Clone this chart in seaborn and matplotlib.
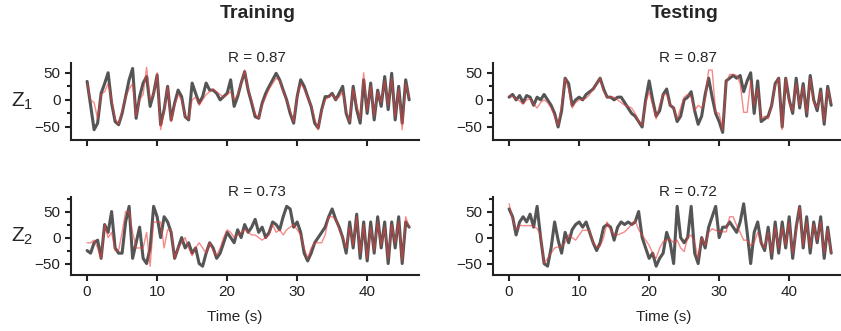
import seaborn as sns
import matplotlib.pyplot as plt
import matplotlib.ticker as mticker
import pandas as pd
import numpy as np

# time axis, one sample every 0.5 s
time_s = np.arange(0, 46.5, 0.5)

train_z1_true = [34, -10, -55, -43, 12, 30, 50, -6, -40, -46,
                 -25, 6, 37, 58, -34, 6, 31, 43, -12, 12,
                 46, -46, -18, 25, -37, -6, 18, 6, -31, -37,
                 31, 12, -6, 6, 31, 18, 18, 12, 0, 6,
                 12, 37, -12, 6, 31, 52, 18, -6, -31, -34,
                 -6, 12, 25, 37, 49, 37, 18, 0, -25, -43,
                 6, 37, 25, 6, -12, -43, -52, -18, 6, 6,
                 12, 0, 12, 25, -25, -43, 25, -18, -43, 37,
                 -25, 31, -37, 18, -12, 43, -18, 49, -37, 25,
                 -43, 37, 0]
train_z1_pred = [30, 0, -5, -35, 10, 15, 30, 0, -35, -45,
                 -20, 5, 20, 30, -30, 0, 10, 60, 0, 10,
                 50, -55, -20, 25, -40, -10, 10, 0, -30, -35,
                 0, 5, -10, 0, 10, 15, 20, 15, 10, 5,
                 10, 15, 0, 10, 30, 55, 20, 0, -25, -35,
                 -10, 5, 20, 30, 40, 35, 15, 0, -20, -40,
                 5, 30, 20, 5, -10, -35, -55, -20, 0, 5,
                 10, 0, 5, 15, -20, -40, 20, -10, -35, 50,
                 -20, 25, -30, 15, -5, 35, -10, 40, -30, 20,
                 -55, 30, 5]

test_z1_true = [5, 10, 0, 8, -5, 8, 5, -10, 5, 0,
                10, 0, -10, -25, -50, -20, 40, 30, -10, 0,
                5, 0, 10, 15, 20, 30, 40, 20, 5, 5,
                0, 5, 5, -5, -15, -25, -30, -40, -50, 0,
                35, 0, -30, -20, 10, 20, -10, -15, -40, -30,
                0, 5, 15, -20, -45, -30, 10, 40, 5, -25,
                -40, -60, 35, 40, 45, 40, 45, 15, 35, 50,
                -25, 35, -40, -35, -30, -10, 30, 40, -50, 40,
                0, -25, 40, -15, 30, -30, 45, 0, -20, 20,
                -45, 25, -10]
test_z1_pred = [8, 6, 2, -2, -8, 0, 2, -8, -15, -5,
                0, -5, -15, -30, -47, -10, 40, 20, -15, -5,
                0, 0, 3, 10, 20, 30, 40, 15, 5, 5,
                5, 0, -5, -10, -12, -15, -25, -40, -47, -5,
                15, -10, -35, -10, 10, 10, -10, -15, -35, -15,
                5, 10, 5, -20, -10, -15, 0, 55, 55, -23,
                -25, -55, 30, 47, 47, 45, 30, -23, -23, 35,
                -10, 20, -35, -30, -35, -10, 25, 40, -55, 40,
                -5, -20, 30, -10, 25, -25, 40, -5, -15, 15,
                -40, 20, -5]

train_z2_true = [-25, -30, -10, -5, -40, 25, 10, 50, -20, -30,
                 -30, 30, 60, -40, -10, 20, -40, -50, -20, 60,
                 40, 0, 40, 30, 10, -40, -20, 0, -20, -10,
                 -30, -20, -50, -55, -30, -10, -20, -40, -30, -10,
                 10, 0, -10, 15, 0, 25, 10, 20, 35, 10,
                 20, 0, 10, 30, 25, 15, 40, 60, 55, 20,
                 30, 10, -30, -45, -30, -10, 0, 10, 20, 40,
                 55, 35, 20, 0, -30, 30, -20, 45, -40, 30,
                 -45, 30, -30, 40, -20, 30, -50, 30, -20, 40,
                 -50, 30, 20]
train_z2_pred = [-10, -10, -5, -20, -40, 25, 0, 10, -25, -25,
                 10, 50, 50, 10, -20, -20, -20, 10, -55, 30,
                 30, 30, -20, 15, 15, -40, -20, -10, 0, -20,
                 -35, -20, -10, -20, -30, -10, -25, -35, -20, 0,
                 15, 10, 0, 5, 10, 15, 10, 5, 5, 0,
                 -5, 0, 5, 25, 10, 15, 5, 15, 20, 25,
                 15, 5, -20, -40, -20, -10, -10, -10, 5, 40,
                 40, 35, 15, 0, -20, 20, -15, 40, -30, 25,
                 -40, 20, -25, 30, -15, 20, -40, 25, -10, 30,
                 -45, 40, 20]

test_z2_true = [55, 40, 5, 30, 40, 30, 45, 20, 60, 0,
                -50, -55, -20, 30, -5, -30, 10, -10, 15, 25,
                30, 20, 30, 10, -10, -25, -10, 20, 25, 20,
                -5, 20, 30, 25, 30, 25, 30, 50, 0, -20,
                -40, -30, -55, -40, -30, 10, -10, -50, 60, 0,
                -10, 0, 60, -30, -50, 0, -20, 20, 40, 60,
                0, 20, 20, 30, 20, 10, 30, 65, 10, -50,
                10, 30, -10, -25, 20, -40, 30, -30, 30, -20,
                40, -40, 20, 60, -20, 40, -30, 30, -10, 40,
                -40, 20, -30]
test_z2_pred = [65, 35, 15, 23, 23, 23, 23, 22, 17, 5,
                -50, -40, -30, -20, -18, -17, -10, 5, 0, -5,
                5, 14, 14, 14, -10, -18, -17, 0, 30, 15,
                5, 5, 8, 11, 18, 25, 33, 15, 5, -5,
                -15, -30, -40, -20, -8, -5, -3, -10, -5, -20,
                -27, 0, 5, -10, -40, 0, -15, 10, 17, 14,
                11, 11, 11, 40, 40, 23, 10, -5, -5, -15,
                -10, 10, -10, -20, 10, -30, 20, -20, 20, -15,
                30, -30, 10, 60, -15, 30, -20, 25, -5, 30,
                -30, 15, -30]

panels = [
    (train_z1_true, train_z1_pred, "R = 0.87"),
    (test_z1_true, test_z1_pred, "R = 0.87"),
    (train_z2_true, train_z2_pred, "R = 0.73"),
    (test_z2_true, test_z2_pred, "R = 0.72"),
]
col_titles = ["Training", "Testing"]
row_labels = [r"$\mathregular{Z_1}$", r"$\mathregular{Z_2}$"]

sns.set_style("ticks")
plt.rcParams['font.family'] = ['Liberation Sans', 'DejaVu Sans']
plt.rcParams['axes.linewidth'] = 1.5
plt.rcParams['xtick.major.width'] = 1.5
plt.rcParams['ytick.major.width'] = 1.5
plt.rcParams['ytick.minor.width'] = 1.5

fig = plt.figure(figsize=(8.41, 3.31), dpi=100)

W, H = 841, 331
lefts = [71, 493]
rows = [(63, 140), (197, 275)]
ylims = [(-74, 68), (-72, 78)]
r_x = [0.534, 0.56]
xlab_x = [0.47, 0.49]

for i, (true_v, pred_v, r_txt) in enumerate(panels):
    row, col = divmod(i, 2)
    top, bottom = rows[row]
    ax = fig.add_axes([lefts[col] / W, 1 - bottom / H, 348 / W, (bottom - top) / H])
    df = pd.DataFrame({"t": time_s, "true": true_v, "pred": pred_v})
    sns.lineplot(data=df, x="t", y="true", ax=ax, color="#555555", lw=2.2)
    sns.lineplot(data=df, x="t", y="pred", ax=ax, color="#f03c3c", lw=1.0, alpha=0.6)
    ax.set_xlim(-2.3, 47.4)
    ax.set_ylim(*ylims[row])
    ax.set_xticks([0, 10, 20, 30, 40])
    ax.set_yticks([-50, 0, 50])
    ax.yaxis.set_minor_locator(mticker.MultipleLocator(25))
    ax.tick_params(axis="both", which="major", length=4, labelsize=11, colors="#222222")
    ax.tick_params(axis="y", which="minor", length=3, color="#222222")
    for s in ["left", "bottom"]:
        ax.spines[s].set_color("#222222")
    sns.despine(ax=ax)
    ax.text(r_x[col], 1.01, r_txt, transform=ax.transAxes, ha="center",
            va="baseline", fontsize=11)
    if col == 0:
        ax.set_ylabel(row_labels[row], rotation=0, fontsize=15, ha="center", va="center")
        ax.yaxis.set_label_coords(-0.14, 0.5)
    else:
        ax.set_ylabel("")
    if row == 1:
        ax.set_xlabel("Time (s)", fontsize=11, va="center")
        ax.xaxis.set_label_coords(xlab_x[col], -0.54)
    else:
        ax.set_xlabel("")
        ax.tick_params(axis="x", labelbottom=False)

fig.text(258 / W, 1 - 14 / H, col_titles[0], ha="center", va="center",
         fontsize=14, fontweight="bold")
fig.text(685 / W, 1 - 14 / H, col_titles[1], ha="center", va="center",
         fontsize=14, fontweight="bold")

fig.savefig("out.png", dpi=100)
